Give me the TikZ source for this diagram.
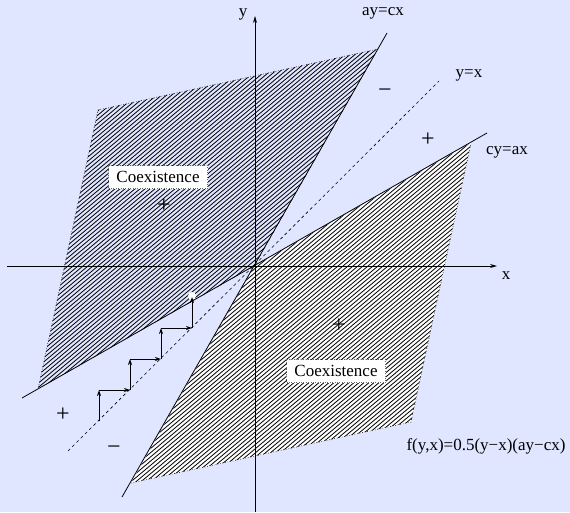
\documentclass[tikz,border=0pt]{standalone}
\usepackage{fontspec}
\setmainfont{Liberation Serif}
\usetikzlibrary{arrows.meta}
\definecolor{bg}{RGB}{224,230,255}
\begin{document}
\begin{tikzpicture}[x=1pt,y=-1pt,
  lbl/.style={font=\fontsize{17}{20}\selectfont, inner sep=0pt},
  sgn/.style={font=\fontsize{24}{26}\selectfont, inner sep=0pt},
  axis/.style={line width=0.7pt, -{Stealth[length=7pt,width=4pt]}},
  bound/.style={line width=0.8pt},
  outline/.style={dotted, line width=0.6pt},
  hatch/.style={line width=0.8pt},
  stair/.style={line width=0.8pt, -{Stealth[length=6pt,width=4pt]}},
  coex/.style={draw=black!60, dotted, fill=white, font=\fontsize{17}{20}\selectfont,
    inner sep=0pt, minimum width=99pt, minimum height=23pt}]

\fill[bg] (0,0) rectangle (570,512);
\useasboundingbox (0,0) rectangle (570,512);

% key points
\coordinate (O) at (254.5,266);
\coordinate (A1) at (387,33);
\coordinate (A2) at (122,497);
\coordinate (C1) at (487,133);
\coordinate (C2) at (22,398);
\coordinate (D1) at (439,81);
\coordinate (D2) at (68,451);
% upper-left region
\coordinate (U1) at (378,49);
\coordinate (U2) at (98,110);
\coordinate (U3) at (38,389);
% lower-right region
\coordinate (L1) at (131,483);
\coordinate (L2) at (411,422);
\coordinate (L3) at (471,143);

% regions
\fill[white] (O) -- (L1) -- (L2) -- (L3) -- cycle;
\begin{scope}
  \clip (O) -- (U1) -- (U2) -- (U3) -- cycle;
  \foreach \k in {-750,-745,...,600} \draw[hatch] (\k,600) -- ({\k+715},0);
\end{scope}
\begin{scope}
  \clip (O) -- (L1) -- (L2) -- (L3) -- cycle;
  \foreach \k in {-750,-745,...,600} \draw[hatch] (\k,600) -- ({\k+715},0);
\end{scope}
\draw[outline] (U1) -- (U2) -- (U3);
\draw[outline] (L1) -- (L2) -- (L3);

% lines
\draw[bound] (A2) -- (A1);
\draw[bound] (C2) -- (C1);
\draw[line width=0.6pt, dash pattern=on 3pt off 3pt] (D2) -- (D1);

% axes
\coordinate (xs) at (7,266);
\coordinate (xe) at (497,266);
\coordinate (ys) at (255,512);
\coordinate (ye) at (255,16);
\draw[axis] (xs) -- (xe);
\draw[axis] (ys) -- (ye);

% staircase
\node[circle, fill=white, inner sep=0pt, minimum size=8pt] (dot) at (192,296) {};
\coordinate (s0) at (99,421);
\coordinate (s1) at (99,390);
\coordinate (s2) at (130,390);
\coordinate (s3) at (130,359);
\coordinate (s4) at (161,359);
\coordinate (s5) at (161,328);
\coordinate (s6) at (192,328);
\coordinate (s7) at (192,297);
\draw[stair] (s0) -- (s1);
\draw[stair] (s1) -- (s2);
\draw[stair] (s2) -- (s3);
\draw[stair] (s3) -- (s4);
\draw[stair] (s4) -- (s5);
\draw[stair] (s5) -- (s6);
\draw[stair] (s6) -- (s7);

% labels
\node[lbl] (ly) at (243,14) {y};
\node[lbl] (lx) at (506,276) {x};
\node[lbl] (lacx) at (383,13) {ay=cx};
\node[lbl] (lyx) at (469,75) {y=x};
\node[lbl] (lcax) at (507,152) {cy=ax};
\node[lbl] (lf) at (486,446) {f(y,x)=0.5(y−x)(ay−cx)};

\node[sgn] (m1) at (385,93) {−};
\node[sgn] (p1) at (428,140) {+};
\node[sgn] (p2) at (63,415) {+};
\node[sgn] (m2) at (114,450) {−};
\node[sgn] (p3) at (164,206) {+};
\node[sgn] (p4) at (339,326) {+};

\node[coex] (co1) at (158,177) {Coexistence};
\node[coex] (co2) at (336,371) {Coexistence};
\end{tikzpicture}
\end{document}
